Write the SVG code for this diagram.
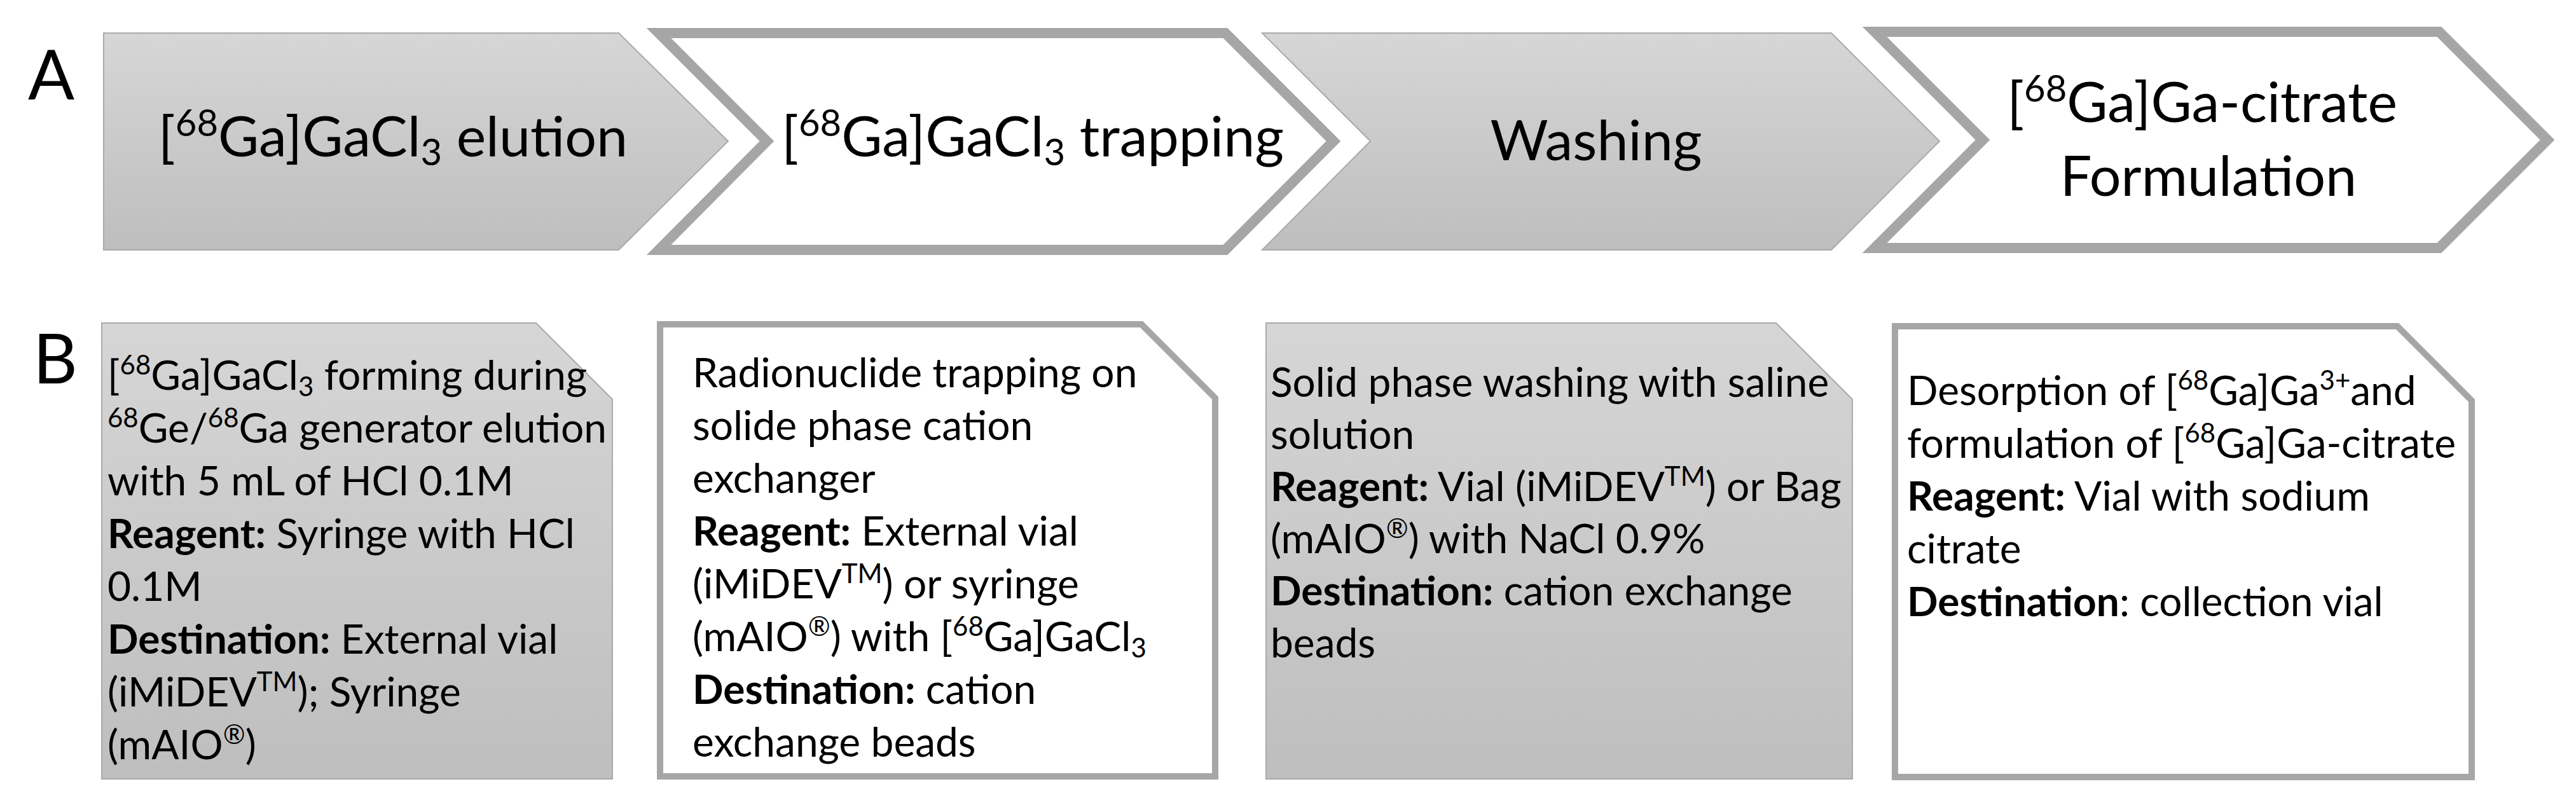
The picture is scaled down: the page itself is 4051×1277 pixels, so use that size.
<svg xmlns="http://www.w3.org/2000/svg" width="4051" height="1277" viewBox="0 0 4051 1277">
<defs>
<linearGradient id="gfill" x1="0" y1="0" x2="0" y2="1">
<stop offset="0" stop-color="#D6D6D6"/>
<stop offset="1" stop-color="#BEBEBE"/>
</linearGradient>
<style>
.t{font-family:Lato,"Noto Sans",sans-serif;fill:#000}
.title{font-size:88px}
.body{font-size:64px}
.lbl{font-size:108px}
.b{font-weight:bold}
.filled{fill:url(#gfill);stroke:#AAAAAA;stroke-width:2}
.outl{fill:#FFFFFF;stroke:#A6A6A6;stroke-width:16;stroke-linejoin:miter}
.boxo{fill:#FFFFFF;stroke:#A6A6A6;stroke-width:10;stroke-linejoin:miter}
</style>
</defs>
<rect width="4051" height="1277" fill="#FFFFFF"/>

<g id="panel-labels">
<text class="t lbl" x="44" y="156">A</text>
<text class="t lbl" x="52" y="603">B</text>
</g>

<g id="step1">
<path class="filled" d="M163,52 H973 L1145,222 L973,393 H163 Z"/>
<text class="t title" x="618" y="246" text-anchor="middle">[<tspan font-size="58" dy="-32">68</tspan><tspan dy="32">Ga]GaCl</tspan><tspan font-size="58" dy="14">3</tspan><tspan dy="-14"> elution</tspan></text>
</g>

<g id="step2">
<path class="outl" d="M1036,52 H1927 L2097,222 L1927,393 H1036 L1206,222 Z"/>
<text class="t title" x="1624" y="246" text-anchor="middle">[<tspan font-size="58" dy="-32">68</tspan><tspan dy="32">Ga]GaCl</tspan><tspan font-size="58" dy="14">3</tspan><tspan dy="-14"> trapping</tspan></text>
</g>

<g id="step3">
<path class="filled" d="M1985,52 H2880 L3050,222 L2880,393 H1985 L2155,222 Z"/>
<text class="t title" x="2510" y="252" text-anchor="middle">Washing</text>
</g>

<g id="step4">
<path class="outl" d="M2948,50 H3836 L4006,220 L3836,390 H2948 L3118,220 Z"/>
<text class="t title" x="3463" y="192" text-anchor="middle">[<tspan font-size="58" dy="-32">68</tspan><tspan dy="32">Ga]Ga-citrate</tspan></text>
<text class="t title" x="3473" y="308" text-anchor="middle">Formulation</text>
</g>

<g id="detail1">
<path class="filled" d="M160,508 H843 L963,628 V1225 H160 Z"/>
<text class="t body" x="169" y="613">[<tspan font-size="42" dy="-24">68</tspan><tspan dy="24">Ga]GaCl</tspan><tspan font-size="42" dy="10">3</tspan><tspan dy="-10"> forming during</tspan></text>
<text class="t body" x="169" y="696"><tspan font-size="42" dy="-24">68</tspan><tspan dy="24">Ge/</tspan><tspan font-size="42" dy="-24">68</tspan><tspan dy="24">Ga generator elution</tspan></text>
<text class="t body" x="169" y="779">with 5 mL of HCl 0.1M</text>
<text class="t body" x="169" y="862"><tspan class="b">Reagent:</tspan> Syringe with HCl</text>
<text class="t body" x="169" y="945">0.1M</text>
<text class="t body" x="169" y="1028"><tspan class="b">Destination:</tspan> External vial</text>
<text class="t body" x="169" y="1111">(iMiDEV<tspan font-size="42" dy="-24">TM</tspan><tspan dy="24">); Syringe</tspan></text>
<text class="t body" x="169" y="1194">(mAIO<tspan font-size="42" dy="-24">®</tspan><tspan dy="24">)</tspan></text>
</g>

<g id="detail2">
<path class="boxo" d="M1038,510 H1795 L1911,626 V1221 H1038 Z"/>
<text class="t body" x="1089" y="609">Radionuclide trapping on</text>
<text class="t body" x="1089" y="692">solide phase cation</text>
<text class="t body" x="1089" y="775">exchanger</text>
<text class="t body" x="1089" y="858"><tspan class="b">Reagent:</tspan> External vial</text>
<text class="t body" x="1089" y="941">(iMiDEV<tspan font-size="42" dy="-24">TM</tspan><tspan dy="24">) or syringe</tspan></text>
<text class="t body" x="1089" y="1024">(mAIO<tspan font-size="42" dy="-24">®</tspan><tspan dy="24">) with [</tspan><tspan font-size="42" dy="-24">68</tspan><tspan dy="24">Ga]GaCl</tspan><tspan font-size="42" dy="10">3</tspan></text>
<text class="t body" x="1089" y="1107"><tspan class="b">Destination:</tspan> cation</text>
<text class="t body" x="1089" y="1190">exchange beads</text>
</g>

<g id="detail3">
<path class="filled" d="M1991,508 H2793 L2913,628 V1225 H1991 Z"/>
<text class="t body" x="1998" y="624">Solid phase washing with saline</text>
<text class="t body" x="1998" y="706">solution</text>
<text class="t body" x="1998" y="788"><tspan class="b">Reagent:</tspan> Vial (iMiDEV<tspan font-size="42" dy="-24">TM</tspan><tspan dy="24">) or Bag</tspan></text>
<text class="t body" x="1998" y="870">(mAIO<tspan font-size="42" dy="-24">®</tspan><tspan dy="24">) with NaCl 0.9%</tspan></text>
<text class="t body" x="1998" y="952"><tspan class="b">Destination:</tspan> cation exchange</text>
<text class="t body" x="1998" y="1034">beads</text>
</g>

<g id="detail4">
<path class="boxo" d="M2980,513 H3770 L3887,630 V1222 H2980 Z"/>
<text class="t body" x="2999" y="637">Desorption of [<tspan font-size="42" dy="-24">68</tspan><tspan dy="24">Ga]Ga</tspan><tspan font-size="42" dy="-24">3+</tspan><tspan dy="24">and</tspan></text>
<text class="t body" x="2999" y="720">formulation of [<tspan font-size="42" dy="-24">68</tspan><tspan dy="24">Ga]Ga-citrate</tspan></text>
<text class="t body" x="2999" y="803"><tspan class="b">Reagent:</tspan> Vial with sodium</text>
<text class="t body" x="2999" y="886">citrate</text>
<text class="t body" x="2999" y="969"><tspan class="b">Destination</tspan>:  collection vial</text>
</g>

<g id="connectors"/>
</svg>
